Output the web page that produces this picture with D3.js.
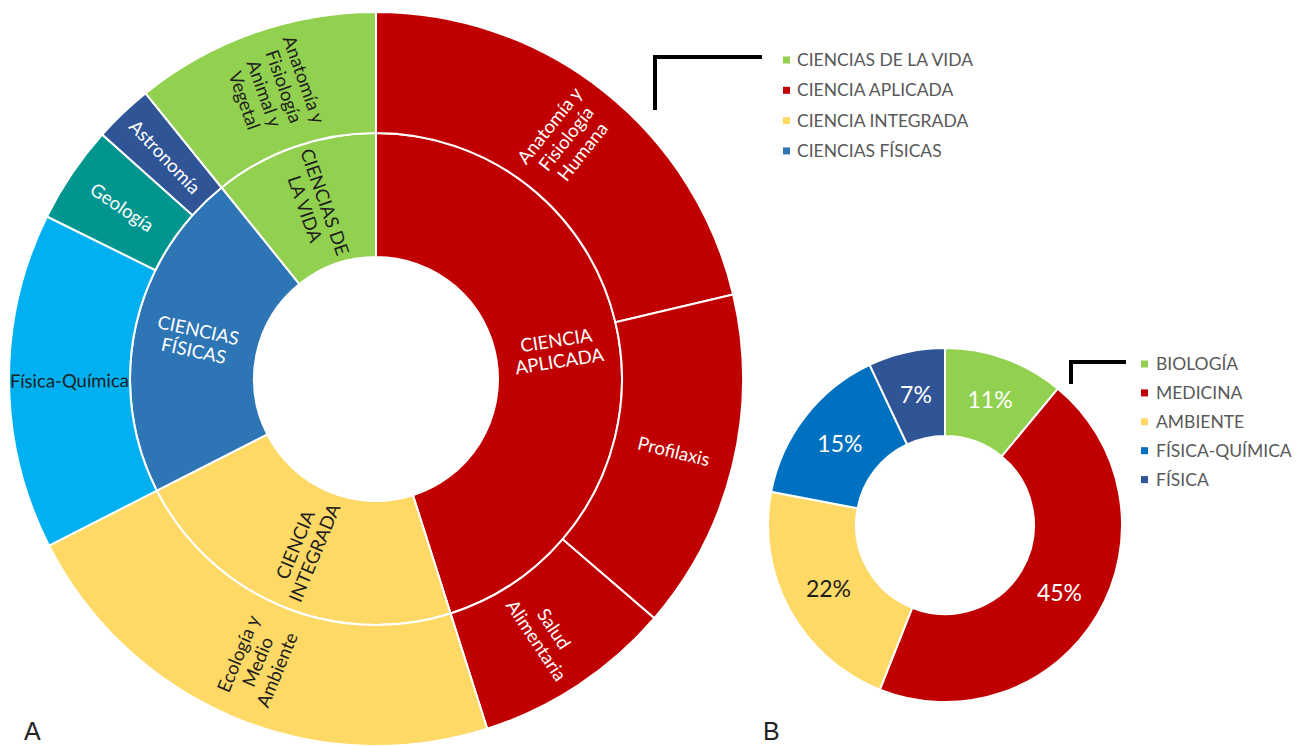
<!DOCTYPE html>
<html>
<head>
<meta charset="utf-8">
<script src="https://cdn.jsdelivr.net/npm/d3@7"></script>
<style>
body { margin: 0; background: #fff; }
text { font-family: Lato, "Open Sans", sans-serif; }
</style>
</head>
<body>
<svg id="chart" width="1296" height="746"></svg>
<script>
// Panel A: topics grouped by field (share of total, %)
var fields = ["CIENCIAS DE LA VIDA", "CIENCIA APLICADA", "CIENCIA INTEGRADA", "CIENCIAS FÍSICAS"];
var topics = ["Anatomía y Fisiología Humana", "Profilaxis", "Salud Alimentaria",
              "Ecología y Medio Ambiente", "Física-Química", "Geología", "Astronomía",
              "Anatomía y Fisiología Animal y Vegetal"];
var topicField = ["CIENCIA APLICADA", "CIENCIA APLICADA", "CIENCIA APLICADA",
                  "CIENCIA INTEGRADA", "CIENCIAS FÍSICAS", "CIENCIAS FÍSICAS", "CIENCIAS FÍSICAS",
                  "CIENCIAS DE LA VIDA"];
var topicShare = [21.3, 15.0, 8.8, 22.4, 14.8, 4.3, 2.6, 10.8];

// Panel B: areas (%)
var areas = ["BIOLOGÍA", "MEDICINA", "AMBIENTE", "FÍSICA-QUÍMICA", "FÍSICA"];
var areaShare = [11, 45, 22, 15, 7];

var fieldColor = {
    "CIENCIAS DE LA VIDA": "#92d050",
    "CIENCIA APLICADA": "#c00000",
    "CIENCIA INTEGRADA": "#ffd966",
    "CIENCIAS FÍSICAS": "#2e75b6"
};
var topicColor = {"Física-Química": "#00b0f0", "Geología": "#00968f", "Astronomía": "#2f5597"};
var areaColor = d3.scaleOrdinal().domain(areas)
    .range(["#92d050", "#c00000", "#ffd966", "#0070c0", "#2f5597"]);

var darkText = "#1e1e1e";
var svg = d3.select("#chart");

function fillOf(d) {
    return topicColor[d.data.name] || fieldColor[d.data.name] || fieldColor[d.parent.data.name];
}

// wrap words into lines no wider than maxW, centred on the origin
function wrapLabel(text, words, maxW, lh) {
    var lines = [], cur = [];
    words.forEach(function(w) {
        var probe = text.append("tspan").text(cur.concat([w]).join(" "));
        var wd = probe.node().getComputedTextLength();
        probe.remove();
        if (wd > maxW && cur.length) { lines.push(cur.join(" ")); cur = [w]; }
        else cur.push(w);
    });
    lines.push(cur.join(" "));
    lines.forEach(function(l, i) {
        text.append("tspan")
            .attr("x", 0)
            .attr("y", (i - (lines.length - 1) / 2) * lh)
            .attr("dy", "0.35em")
            .text(l);
    });
}

// ---------- A: sunburst ----------
var cxA = 376, cyA = 379;
var data = {name: "root", children: fields.map(function(f) {
    return {name: f, children: topics.map(function(t, i) {
        return {name: t, value: topicShare[i], field: topicField[i]};
    }).filter(function(t) { return t.field == f; })};
})};

var root = d3.hierarchy(data)
    .sum(function(d) { return d.value; })
    .sort(function(a, b) { return b.value - a.value; });
d3.partition().size([2 * Math.PI, 3])(root);

var ringR = d3.scaleLinear().domain([1, 2, 3]).range([122, 246, 367]);
var arcA = d3.arc()
    .startAngle(function(d) { return d.x0; })
    .endAngle(function(d) { return d.x1; })
    .innerRadius(function(d) { return ringR(d.y0); })
    .outerRadius(function(d) { return ringR(d.y1); });

var gA = svg.append("g").attr("transform", "translate(" + cxA + "," + cyA + ")");
var nodes = root.descendants().slice(1);

gA.selectAll("path")
    .data(nodes)
    .enter().append("path")
    .attr("d", arcA)
    .attr("fill", fillOf)
    .attr("stroke", "#fff")
    .attr("stroke-width", 2);

gA.selectAll("text")
    .data(nodes)
    .enter().append("text")
    .attr("transform", function(d) {
        var a = (d.x0 + d.x1) / 2, r = ringR((d.y0 + d.y1) / 2);
        var deg = a * 180 / Math.PI;
        var rot = deg < 180 ? deg - 90 : deg - 270;
        return "translate(" + (r * Math.sin(a)) + "," + (-r * Math.cos(a)) + ") rotate(" + rot + ")";
    })
    .attr("text-anchor", "middle")
    .style("font-size", "18.5px")
    .attr("fill", function(d) { return d3.lab(fillOf(d)).l > 60 ? darkText : "#fff"; })
    .each(function(d) { wrapLabel(d3.select(this), d.data.name.split(" "), 118, 21); });

// legend A
var legAy = d3.scaleLinear().domain([0, 1]).range([60, 90.3]);
svg.append("path")
    .attr("d", "M655,110V57H762")
    .attr("fill", "none").attr("stroke", "#000").attr("stroke-width", 4);
var legA = svg.selectAll(".legA")
    .data(fields)
    .enter().append("g")
    .attr("class", "legA")
    .attr("transform", function(d, i) { return "translate(783," + legAy(i) + ")"; });
legA.append("rect").attr("x", 0).attr("y", -3.5).attr("width", 7).attr("height", 7)
    .attr("fill", function(d) { return fieldColor[d]; });
legA.append("text").attr("x", 14).attr("dy", "0.35em")
    .style("font-size", "17.5px").attr("fill", "#595959")
    .text(function(d) { return d; });

// ---------- B: donut ----------
var cxB = 945, cyB = 525;
var pie = d3.pie().sort(null).value(function(d) { return d; });
var arcB = d3.arc().innerRadius(89).outerRadius(177);
var gB = svg.append("g").attr("transform", "translate(" + cxB + "," + cyB + ")");
var slices = pie(areaShare);

gB.selectAll("path")
    .data(slices)
    .enter().append("path")
    .attr("d", arcB)
    .attr("fill", function(d, i) { return areaColor(areas[i]); })
    .attr("stroke", "#fff")
    .attr("stroke-width", 2);

gB.selectAll("text")
    .data(slices)
    .enter().append("text")
    .attr("transform", function(d) { return "translate(" + arcB.centroid(d) + ")"; })
    .attr("text-anchor", "middle")
    .attr("dy", "0.35em")
    .style("font-size", "23px")
    .attr("fill", function(d, i) { return d3.lab(areaColor(areas[i])).l > 80 ? darkText : "#fff"; })
    .text(function(d) { return d.data + "%"; });

// legend B
var legBy = d3.scaleLinear().domain([0, 1]).range([364, 392.9]);
svg.append("path")
    .attr("d", "M1071,384V362H1126")
    .attr("fill", "none").attr("stroke", "#000").attr("stroke-width", 4);
var legB = svg.selectAll(".legB")
    .data(areas)
    .enter().append("g")
    .attr("class", "legB")
    .attr("transform", function(d, i) { return "translate(1141," + legBy(i) + ")"; });
legB.append("rect").attr("x", 0).attr("y", -3.5).attr("width", 7).attr("height", 7)
    .attr("fill", function(d) { return areaColor(d); });
legB.append("text").attr("x", 15).attr("dy", "0.35em")
    .style("font-size", "17.5px").attr("fill", "#595959")
    .text(function(d) { return d; });

// panel letters
svg.append("text").attr("x", 24).attr("y", 740)
    .style("font-family", "'Liberation Sans', Arial, sans-serif").style("font-size", "25px")
    .attr("fill", "#222").text("A");
svg.append("text").attr("x", 763).attr("y", 740)
    .style("font-family", "'Liberation Sans', Arial, sans-serif").style("font-size", "25px")
    .attr("fill", "#222").text("B");
</script>
</body>
</html>
